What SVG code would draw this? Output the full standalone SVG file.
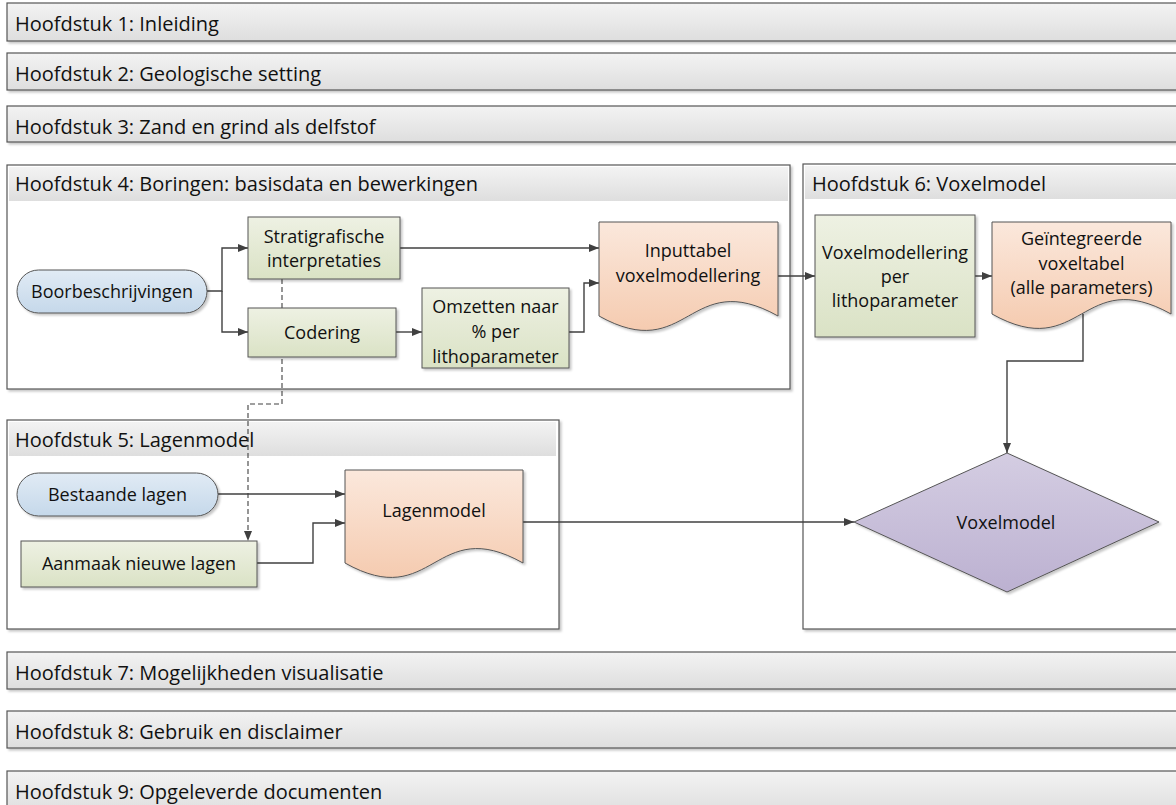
<svg xmlns="http://www.w3.org/2000/svg" width="1176" height="805" viewBox="0 0 1176 805">
<defs>
  <linearGradient id="gBar" x1="0" y1="0" x2="0" y2="1"><stop offset="0" stop-color="#f3f3f3"/><stop offset="1" stop-color="#dedede"/></linearGradient>
  <linearGradient id="gGreen" x1="0" y1="0" x2="0" y2="1"><stop offset="0" stop-color="#eef1e3"/><stop offset="1" stop-color="#dae2c5"/></linearGradient>
  <linearGradient id="gBlue" x1="0" y1="0" x2="0" y2="1"><stop offset="0" stop-color="#e1ebf5"/><stop offset="1" stop-color="#c5d8ea"/></linearGradient>
  <linearGradient id="gPeach" x1="0" y1="0" x2="0" y2="1"><stop offset="0" stop-color="#fbe8dc"/><stop offset="1" stop-color="#f5cbb0"/></linearGradient>
  <linearGradient id="gPurple" x1="0" y1="0" x2="0" y2="1"><stop offset="0" stop-color="#d4cde2"/><stop offset="1" stop-color="#bcb1d1"/></linearGradient>
  <filter id="sh" x="-10%" y="-10%" width="120%" height="130%">
    <feDropShadow dx="2" dy="2" stdDeviation="1" flood-color="#000" flood-opacity="0.22"/>
  </filter>
  <marker id="arr" viewBox="0 0 10 10" refX="10" refY="5" markerWidth="10" markerHeight="10" markerUnits="userSpaceOnUse" orient="auto">
    <path d="M0,1 L10,5 L0,9 z" fill="#404040"/>
  </marker>
</defs>
<style>
  text { font-family: "Open Sans", "Liberation Sans", sans-serif; fill: #111; }
  .hdr { font-size: 20px; }
  .lbl { font-size: 18px; text-anchor: middle; }
  .bar { fill: url(#gBar); stroke: #555; stroke-width: 1.2; filter: url(#sh); }
  .cont { fill: #fff; stroke: #555; stroke-width: 1.2; filter: url(#sh); }
  .band { fill: url(#gBar); stroke: none; }
  .proc { fill: url(#gGreen); stroke: #555; stroke-width: 1; filter: url(#sh); }
  .term { fill: url(#gBlue); stroke: #555; stroke-width: 1; filter: url(#sh); }
  .doc { fill: url(#gPeach); stroke: #555; stroke-width: 1; filter: url(#sh); }
  .dec { fill: url(#gPurple); stroke: #555; stroke-width: 1; filter: url(#sh); }
  .con { fill: none; stroke: #404040; stroke-width: 1.4; }
  .dash { stroke-dasharray: 5 3; stroke-width: 1.1; }
</style>

<g id="ch1"><rect class="bar" x="7" y="3" width="1180" height="38"/><text class="hdr" x="15" y="31">Hoofdstuk 1: Inleiding</text></g>
<g id="ch2"><rect class="bar" x="7" y="53" width="1180" height="37"/><text class="hdr" x="15" y="81">Hoofdstuk 2: Geologische setting</text></g>
<g id="ch3"><rect class="bar" x="7" y="106" width="1180" height="36"/><text class="hdr" x="15" y="134">Hoofdstuk 3: Zand en grind als delfstof</text></g>

<g id="ch4"><rect class="cont" x="7" y="165" width="783" height="224"/><rect class="band" x="9" y="167" width="779" height="34"/><text class="hdr" x="15" y="191">Hoofdstuk 4: Boringen: basisdata en bewerkingen</text></g>
<g id="ch6"><rect class="cont" x="803" y="164" width="390" height="465"/><rect class="band" x="805" y="166" width="390" height="33"/><text class="hdr" x="812" y="191">Hoofdstuk 6: Voxelmodel</text></g>
<g id="ch5"><rect class="cont" x="7" y="420" width="552" height="209"/><rect class="band" x="9" y="422" width="547" height="34"/><text class="hdr" x="15" y="447">Hoofdstuk 5: Lagenmodel</text></g>

<g id="ch7"><rect class="bar" x="7" y="652" width="1180" height="37"/><text class="hdr" x="15" y="680">Hoofdstuk 7: Mogelijkheden visualisatie</text></g>
<g id="ch8"><rect class="bar" x="7" y="711" width="1180" height="37"/><text class="hdr" x="15" y="739">Hoofdstuk 8: Gebruik en disclaimer</text></g>
<g id="ch9"><rect class="bar" x="7" y="771" width="1180" height="42"/><text class="hdr" x="15" y="799">Hoofdstuk 9: Opgeleverde documenten</text></g>

<g id="connectors">
  <path class="con" d="M207,291 H222 V248 H248" marker-end="url(#arr)"/>
  <path class="con" d="M222,291 V332 H248" marker-end="url(#arr)"/>
  <path class="con" d="M400,248 H599" marker-end="url(#arr)"/>
  <path class="con" d="M396,332 H422" marker-end="url(#arr)"/>
  <path class="con" d="M569,332 H584 V283 H599" marker-end="url(#arr)"/>
  <path class="con" d="M778,276 H815" marker-end="url(#arr)"/>
  <path class="con" d="M975,276 H992" marker-end="url(#arr)"/>
  <path class="con" d="M1083,314 V361 H1007 V453" marker-end="url(#arr)"/>
  <path class="con dash" d="M282,279 V404 H248 V541" marker-end="url(#arr)"/>
  <path class="con" d="M218,494 H345" marker-end="url(#arr)"/>
  <path class="con" d="M257,563 H313 V523 H345" marker-end="url(#arr)"/>
  <path class="con" d="M523,522 H854" marker-end="url(#arr)"/>
</g>

<g id="boorbeschrijvingen"><rect class="term" x="17" y="270" width="190" height="43" rx="21.5"/><text class="lbl" x="112" y="298">Boorbeschrijvingen</text></g>
<g id="stratigrafische"><rect class="proc" x="248" y="217" width="152" height="62"/><text class="lbl" x="324" y="243">Stratigrafische</text><text class="lbl" x="324" y="267">interpretaties</text></g>
<g id="codering"><rect class="proc" x="248" y="308" width="148" height="49"/><text class="lbl" x="322" y="339">Codering</text></g>
<g id="omzetten"><rect class="proc" x="422" y="288" width="147" height="80"/><text class="lbl" x="495.5" y="313">Omzetten naar</text><text class="lbl" x="495.5" y="338">% per</text><text class="lbl" x="495.5" y="363">lithoparameter</text></g>
<g id="inputtabel"><path class="doc" d="M599,222 H778 V316 C688.5,266 688.5,366 599,316 Z"/><text class="lbl" x="688" y="257">Inputtabel</text><text class="lbl" x="688" y="282">voxelmodellering</text></g>
<g id="voxelmodellering"><rect class="proc" x="815" y="215" width="160" height="122"/><text class="lbl" x="895" y="259">Voxelmodellering</text><text class="lbl" x="895" y="283">per</text><text class="lbl" x="895" y="307">lithoparameter</text></g>
<g id="geintegreerde"><path class="doc" d="M992,222 H1171 V314 C1081.5,264 1081.5,364 992,314 Z"/><text class="lbl" x="1081.5" y="245">Geïntegreerde</text><text class="lbl" x="1081.5" y="270">voxeltabel</text><text class="lbl" x="1081.5" y="294">(alle parameters)</text></g>
<g id="voxelmodel"><path class="dec" d="M1007,453 L1159,522 L1007,592 L854,522 Z"/><text class="lbl" x="1006" y="529">Voxelmodel</text></g>
<g id="bestaande"><rect class="term" x="17" y="473" width="201" height="43" rx="21.5"/><text class="lbl" x="117.5" y="501">Bestaande lagen</text></g>
<g id="aanmaak"><rect class="proc" x="21" y="541" width="236" height="46"/><text class="lbl" x="139" y="570">Aanmaak nieuwe lagen</text></g>
<g id="lagenmodel"><path class="doc" d="M345,470 H523 V563 C434,513 434,613 345,563 Z"/><text class="lbl" x="434" y="517">Lagenmodel</text></g>
</svg>
